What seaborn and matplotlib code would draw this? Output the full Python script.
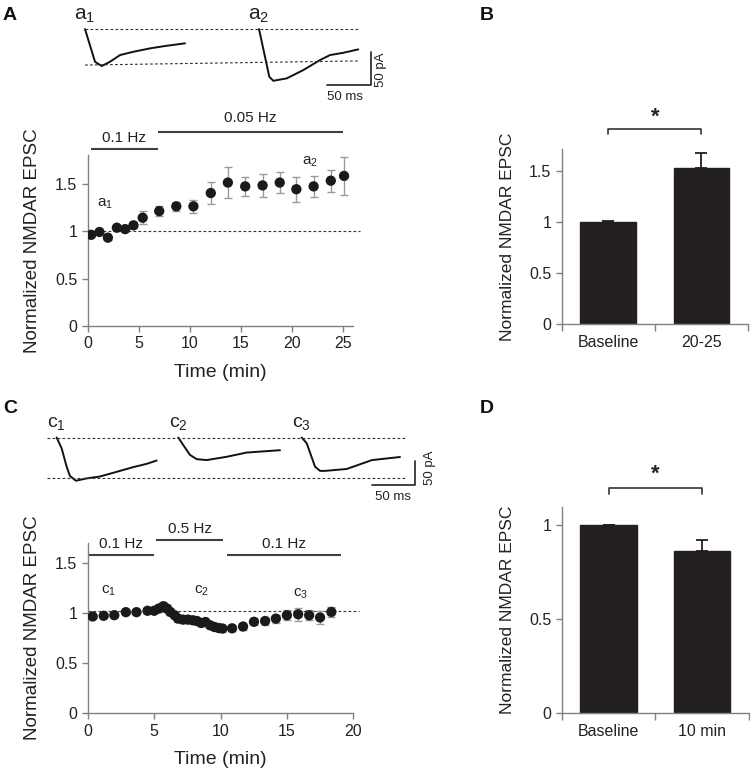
import matplotlib
matplotlib.use("Agg")
import matplotlib.pyplot as plt
import seaborn as sns

# ---- data ----
# panel A time course (0.1 Hz -> 0.05 Hz)
a_time = [0.33, 1.15, 1.97, 2.85, 3.66, 4.48, 5.38, 7.0, 8.67, 10.35, 12.05,
          13.72, 15.42, 17.12, 18.8, 20.43, 22.12, 23.8, 25.1]
a_value = [0.96, 0.99, 0.93, 1.035, 1.02, 1.06, 1.14, 1.21, 1.26, 1.26, 1.40,
           1.51, 1.47, 1.48, 1.51, 1.44, 1.47, 1.53, 1.58]
a_sem = [0.02, 0.02, 0.02, 0.02, 0.02, 0.03, 0.07, 0.05, 0.05, 0.07, 0.12,
         0.165, 0.10, 0.125, 0.11, 0.13, 0.11, 0.115, 0.20]

# panel B summary
b_groups = ["Baseline", "20-25"]
b_mean = [1.0, 1.53]
b_sem = [0.01, 0.14]

# panel C time course (0.1 Hz -> 0.5 Hz -> 0.1 Hz)
c_time = [0.37, 1.2, 2.0, 2.87, 3.67, 4.5, 5.0,
          5.35, 5.7, 5.97, 6.22, 6.55, 6.8, 7.17, 7.55, 7.92, 8.22, 8.55,
          8.87, 9.22, 9.55, 9.87, 10.15,
          10.87, 11.7, 12.52, 13.36, 14.17, 15.0, 15.85, 16.68, 17.5, 18.35]
c_value = [0.965, 0.972, 0.978, 1.008, 1.008, 1.022, 1.022,
           1.044, 1.067, 1.044, 1.01, 0.977, 0.944, 0.934, 0.934, 0.927, 0.92,
           0.90, 0.91, 0.877, 0.86, 0.85, 0.845,
           0.847, 0.865, 0.912, 0.92, 0.944, 0.977, 0.987, 0.977, 0.955, 1.01]
c_sem = [0.015, 0.015, 0.015, 0.015, 0.015, 0.015, 0.02,
         0.03, 0.04, 0.035, 0.03, 0.03, 0.03, 0.03, 0.03, 0.03, 0.03, 0.03,
         0.03, 0.03, 0.03, 0.03, 0.03,
         0.03, 0.03, 0.035, 0.04, 0.04, 0.05, 0.065, 0.05, 0.06, 0.05]

# panel D summary
d_groups = ["Baseline", "10 min"]
d_mean = [1.0, 0.865]
d_sem = [0.003, 0.055]

# example traces (ms, pA), hand-read key points
a1_ms = [0, 11.3, 18.8, 28.2, 39.5, 54.5, 73.4, 92.2, 112.9]
a1_pa = [0, -48.8, -55.2, -48.8, -38.8, -33.9, -28.8, -24.9, -21.3]
a2_ms = [0, 11.6, 16.1, 31.3, 50.0, 68.8, 80.1, 95.1, 112.1]
a2_pa = [0, -71.2, -77.2, -73.6, -61.2, -46.3, -38.8, -35.4, -30.3]
c1_ms = [0, 5.8, 11.6, 15.5, 22.4, 34.9, 50.3, 69.8, 89.1, 104.7, 116.3]
c1_pa = [0, -23, -62, -82, -92, -87, -83, -73, -63, -56, -49]
c2_ms = [0, 5.8, 13.6, 21.4, 33.0, 56.3, 79.5, 102.8, 118.3]
c2_pa = [0, -16, -37, -46, -48, -41, -32, -29, -27]
c3_ms = [0, 5.8, 15.5, 21.3, 27.1, 52.3, 81.7, 114.3]
c3_pa = [0, -12, -62, -71, -71, -67, -48, -41.5]

# ---- style ----
sns.set_style("ticks")
plt.rcParams["font.family"] = ["Liberation Sans", "DejaVu Sans"]
plt.rcParams["mathtext.fontset"] = "custom"
plt.rcParams["mathtext.rm"] = "Liberation Sans"
plt.rcParams["mathtext.it"] = "Liberation Sans"

SPINE = "#808080"
TXT = "#222222"
DOT = "#1a1a1a"
ERR = "#9a9a9a"
BAR = "#231f20"
LINE = "#404040"

fig = plt.figure(figsize=(7.5, 7.74), dpi=100)


def style_axes(ax):
    sns.despine(ax=ax)
    for s in ("left", "bottom"):
        ax.spines[s].set_color(SPINE)
        ax.spines[s].set_linewidth(1.0)
    ax.tick_params(direction="out", length=4, width=1, color=SPINE,
                   labelcolor=TXT, labelsize=11.5)


def sub(base, n):
    return r"$\mathregular{%s_{%s}}$" % (base, n)


def time_course(ax, t, v, err, xmax, ymax, dash_y, dash_end):
    ax.errorbar(t, v, yerr=err, fmt="none", ecolor=ERR, elinewidth=1,
                capsize=3, capthick=1, zorder=2)
    sns.scatterplot(x=t, y=v, ax=ax, color=DOT, s=55, edgecolor="none",
                    linewidth=0, zorder=3, legend=False)
    ax.plot([0, dash_end], [dash_y, dash_y], ls=(0, (2.5, 2)), lw=0.8,
            color="#333333", clip_on=False, zorder=1)
    ax.set_xlim(0, xmax)
    ax.set_ylim(0, ymax)
    ax.set_yticks([0, 0.5, 1, 1.5])
    ax.set_yticklabels(["0", "0.5", "1", "1.5"])
    style_axes(ax)
    ax.set_ylabel("Normalized NMDAR EPSC", fontsize=13.5, color=TXT, labelpad=10)
    ax.set_xlabel("Time (min)", fontsize=14, color=TXT, labelpad=9)


def freq_bar(ax, x0, x1, y, label, ty):
    ax.plot([x0, x1], [y, y], color=LINE, lw=1.5, clip_on=False,
            solid_capstyle="butt")
    ax.text((x0 + x1) / 2, ty, label, ha="center", va="center", fontsize=11,
            color=TXT, clip_on=False)


def bar_panel(ax, groups, mean, err, ymax, yticks, yticklabels,
              br_y, br_tick, star_y):
    sns.barplot(x=groups, y=mean, ax=ax, color=BAR, saturation=1, width=0.6,
                errorbar=None, edgecolor=BAR)
    ax.errorbar([0, 1], mean, yerr=[[0, 0], err], fmt="none", ecolor=BAR,
                elinewidth=1.3, capsize=4, capthick=1.3, zorder=3)
    ax.set_xlim(-0.5, 1.5)
    ax.set_ylim(0, ymax)
    ax.set_yticks(yticks)
    ax.set_yticklabels(yticklabels)
    style_axes(ax)
    ax.tick_params(axis="x", which="major", length=0, pad=8)
    ax.set_xticks([-0.5, 0.5, 1.5], minor=True)
    ax.tick_params(axis="x", which="minor", direction="out", length=5,
                   width=1, color=SPINE)
    ax.set_ylabel("Normalized NMDAR EPSC", fontsize=12.5, color=TXT,
                  labelpad=10)
    ax.plot([0, 0, 1, 1], [br_y - br_tick, br_y, br_y, br_y - br_tick],
            color="#333333", lw=1.2, clip_on=False)
    ax.text(0.5, star_y, "*", ha="center", va="center", fontsize=16,
            fontweight="bold", color=TXT, clip_on=False)


def trace_panel(ax, traces, offsets, labels, dashes, dash_x, bar_x, bar_ms,
                bar_pa, bar_top, lab_y, ms_text, pa_text, lab_size):
    for (t, v), off, lab in zip(traces, offsets, labels):
        sns.lineplot(x=[off + x for x in t], y=v, ax=ax, color="#111111",
                     lw=1.4, sort=False, estimator=None)
        ax.text(off, lab_y, lab, ha="center", va="center", fontsize=lab_size,
                color=TXT)
    for (y0, y1) in dashes:
        ax.plot(dash_x, [y0, y1], ls=(0, (2.5, 2)), lw=0.8, color="#333333")
    # scale bar
    ax.plot([bar_x - bar_ms, bar_x, bar_x], [bar_top - bar_pa, bar_top - bar_pa,
            bar_top], color="#222222", lw=1.2)
    ax.text(ms_text[0], ms_text[1], "50 ms", ha="center", va="center",
            fontsize=9.5, color=TXT)
    ax.text(pa_text[0], pa_text[1], "50 pA", ha="center", va="center",
            fontsize=9.5, color=TXT, rotation=90)
    ax.axis("off")


# ---- panel A ----
ax_at = fig.add_axes([0.100, 0.8643, 0.4267, 0.1227])
ax_at.set_xlim(-11.3, 349.9)
ax_at.set_ylim(-113.4, 28.4)
trace_panel(ax_at, [(a1_ms, a1_pa), (a2_ms, a2_pa)], [0, 196.4],
            [sub("a", 1), sub("a", 2)], [(0, 0), (-53.7, -47.5)], [0, 310],
            322.8, 50, 50, -33.9, 21, (293.5, -102), (334, -61), 15)

ax_a = fig.add_axes([0.117, 0.5788, 0.354, 0.2209])
time_course(ax_a, a_time, a_value, a_sem, 26.0, 1.8, 1.0, 26.7)
ax_a.set_xticks([0, 5, 10, 15, 20, 25])
freq_bar(ax_a, 0.3, 6.85, 1.86, "0.1 Hz", 1.98)
freq_bar(ax_a, 6.85, 25.0, 2.045, "0.05 Hz", 2.19)
ax_a.text(1.7, 1.29, sub("a", 1), ha="center", va="center", fontsize=11,
          color=TXT)
ax_a.text(21.8, 1.73, sub("a", 2), ha="center", va="center", fontsize=11,
          color=TXT)

# ---- panel B ----
ax_b = fig.add_axes([0.749, 0.582, 0.2484, 0.225])
bar_panel(ax_b, b_groups, b_mean, b_sem, 1.71, [0, 0.5, 1, 1.5],
          ["0", "0.5", "1", "1.5"], 1.91, 0.05, 2.03)

# ---- panel C ----
ax_ct = fig.add_axes([0.0533, 0.354, 0.54, 0.1098])
ax_ct.set_xlim(-19.4, 451.5)
ax_ct.set_ylim(-133, 47.9)
trace_panel(ax_ct, [(c1_ms, c1_pa), (c2_ms, c2_pa), (c3_ms, c3_pa)],
            [0, 141.4, 284.9], [sub("c", 1), sub("c", 2), sub("c", 3)],
            [(0, 0), (-87, -87)], [-11.6, 407], 417.2, 50, 50, -51,
            30, (391, -127), (434, -65), 14)

ax_c = fig.add_axes([0.117, 0.0784, 0.354, 0.2204])
time_course(ax_c, c_time, c_value, c_sem, 20.0, 1.7, 1.02, 20.4)
ax_c.set_xticks([0, 5, 10, 15, 20])
freq_bar(ax_c, 0.0, 5.0, 1.58, "0.1 Hz", 1.69)
freq_bar(ax_c, 5.17, 10.17, 1.73, "0.5 Hz", 1.84)
freq_bar(ax_c, 10.47, 19.05, 1.58, "0.1 Hz", 1.69)
ax_c.text(1.55, 1.22, sub("c", 1), ha="center", va="center", fontsize=11,
          color=TXT)
ax_c.text(8.55, 1.22, sub("c", 2), ha="center", va="center", fontsize=11,
          color=TXT)
ax_c.text(16.05, 1.19, sub("c", 3), ha="center", va="center", fontsize=11,
          color=TXT)

# ---- panel D ----
ax_d = fig.add_axes([0.749, 0.0784, 0.2497, 0.267])
bar_panel(ax_d, d_groups, d_mean, d_sem, 1.1, [0, 0.5, 1],
          ["0", "0.5", "1"], 1.20, 0.03, 1.275)

# panel letters
for letter, x, y in [("A", 10, 15), ("B", 487, 15), ("C", 10, 408),
                     ("D", 487, 408)]:
    fig.text(x / 750, 1 - y / 774, letter, fontsize=14, fontweight="bold",
             ha="center", va="center", color="#111111")

fig.savefig("out.png", dpi=100)
